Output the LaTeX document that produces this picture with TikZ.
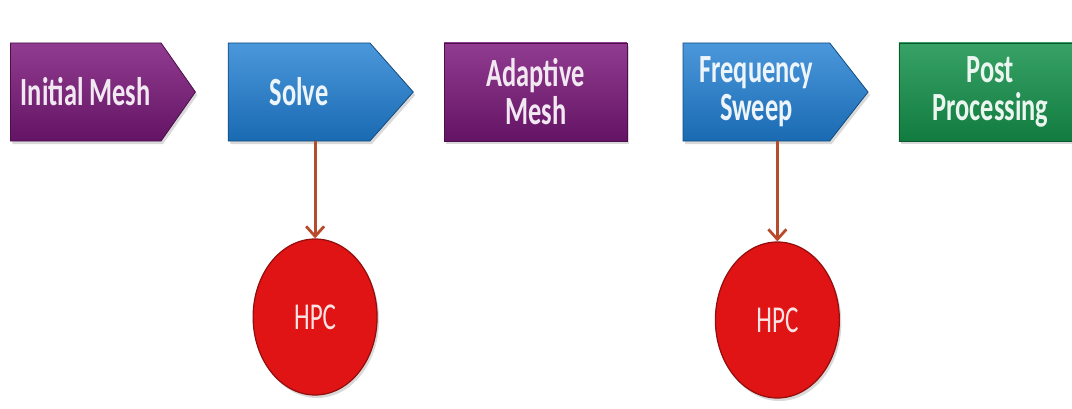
\documentclass[tikz,border=0pt]{standalone}
\usepackage{fontspec}
\setmainfont{Carlito}
\newfontfamily\stageFont[FakeStretch=0.66]{Carlito}
\usepackage{tikz}
\usetikzlibrary{shapes.geometric, shapes.symbols, positioning, arrows.meta, shadows}
\definecolor{meshPurple}{HTML}{7D197D}
\definecolor{solveBlue}{HTML}{1E7DD2}
\definecolor{postGreen}{HTML}{14914B}
\definecolor{hpcRed}{HTML}{E01414}
\definecolor{flowBrown}{HTML}{B94B2D}
\tikzset{
	stage/.style={
		font=\stageFont\bfseries\fontsize{40}{38}\selectfont,
		align=center,
		minimum height=98pt,
		inner sep=0pt,
		line width=0.8pt,
		drop shadow={shadow xshift=2pt, shadow yshift=-3pt, opacity=0.3}
	},
	stageArrow/.style={
		stage,
		shape=signal,
		signal to=east,
		signal pointer angle=104,
		minimum width=185pt
	},
	stageBox/.style={
		stage,
		rectangle,
		minimum width=183pt
	},
	meshFill/.style={
		top color=meshPurple!85!white,
		bottom color=meshPurple!80!black,
		draw=meshPurple!60!black,
		text=meshPurple!10!white
	},
	solveFill/.style={
		top color=solveBlue!80!white,
		bottom color=solveBlue!85!black,
		draw=solveBlue!60!black,
		text=solveBlue!8!white
	},
	postFill/.style={
		top color=postGreen!85!white,
		bottom color=postGreen!85!black,
		draw=postGreen!60!black,
		text=postGreen!8!white
	},
	hpc/.style={
		ellipse,
		minimum width=124pt,
		minimum height=156pt,
		inner sep=0pt,
		fill=hpcRed,
		draw=hpcRed!65!black,
		line width=1.2pt,
		text=hpcRed!12!white,
		font=\stageFont\fontsize{38}{38}\selectfont,
		drop shadow={shadow xshift=2pt, shadow yshift=-3pt, opacity=0.3}
	},
	flowHpc/.style={
		draw=flowBrown,
		line width=2.8pt,
		-{Straight Barb[length=10pt, width=18pt]}
	},
}

\begin{document}
\begin{tikzpicture}[x=1pt, y=1pt]
	\useasboundingbox (0,0) rectangle (1072,408);
	\clip (0,0) rectangle (1072,408);

	% main flow
	\node [stageArrow, meshFill, signal pointer angle=110, anchor=west] (initialMesh) at (10,316) {Initial Mesh};
	\node [stageArrow, solveFill, signal pointer angle=97, right=32pt of initialMesh] (solve) {Solve};
	\node [stageBox, meshFill, right=30pt of solve] (adaptiveMesh) {Adaptive\\Mesh};
	\node [stageArrow, solveFill, right=55pt of adaptiveMesh] (frequencySweep) {Frequency\\Sweep};
	\node [stageBox, postFill, right=30pt of frequencySweep] (postProcessing) {Post\\Processing};

	% hpc
	\node [hpc, below=97pt of solve, xshift=16pt] (hpcSolve) {HPC};
	\node [hpc, below=100pt of frequencySweep, xshift=21pt] (hpcSweep) {HPC};

	% connect steps to hpc
	\draw [flowHpc] (hpcSolve.north |- solve.south) -- (hpcSolve.north);
	\draw [flowHpc] (hpcSweep.north |- frequencySweep.south) -- (hpcSweep.north);
\end{tikzpicture}
\end{document}
